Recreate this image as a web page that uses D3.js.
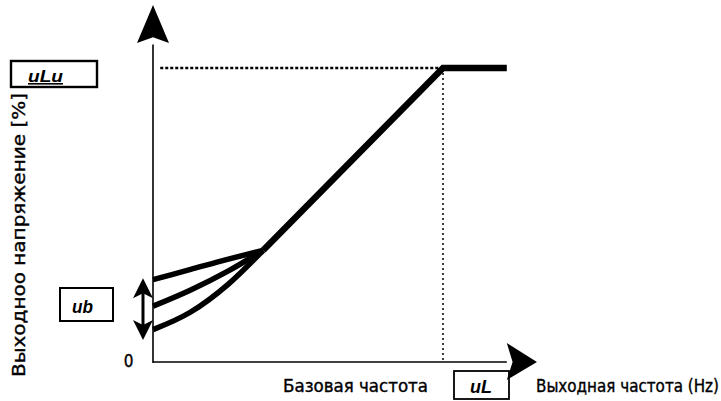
<!DOCTYPE html>
<html><head><meta charset="utf-8">
<script src="https://cdn.jsdelivr.net/npm/d3@7/dist/d3.min.js"></script>
<style>html,body{margin:0;padding:0;background:#fff;}svg{display:block;}</style>
</head><body>
<script>
// ---- data (x: % of base frequency, y: % of output voltage) ----
const mainLine = [[38,38],[100,100],[122,100]];
const boostHigh = [[0,28],[13,31.5],[26,35],[38,38]];
const boostMid  = [[0,19],[13,24.5],[26,31],[38,38]];
const boostLow  = [[0,11],[13,17],[26,26.5],[38,38]];
const xLabels = ["Базовая частота", "Выходная частота (Hz)"];
const yLabel = "Выходноо напряжение [%]";
const boxLabels = ["uLu", "ub", "uL"];
const zeroLabel = "0";

const W = 721, H = 401;
const svg = d3.select("body").append("svg").attr("width", W).attr("height", H);
const x = d3.scaleLinear().domain([0,100]).range([153,443]);
const y = d3.scaleLinear().domain([0,100]).range([362,68]);
const font = "'DejaVu Sans Condensed','Liberation Sans Narrow','Arial Narrow',sans-serif";

// dotted guides
svg.append("line").attr("x1", x(2.5)).attr("x2", x(100)).attr("y1", y(100)).attr("y2", y(100))
  .attr("stroke","#000").attr("stroke-width",2.5).attr("stroke-dasharray","3,2");
svg.append("line").attr("x1", x(100)).attr("x2", x(100)).attr("y1", y(100)).attr("y2", y(0))
  .attr("stroke","#000").attr("stroke-width",1.5).attr("stroke-dasharray","2,3");

// axes
svg.append("line").attr("x1", x(0)).attr("x2", x(0)).attr("y1", y(0)+1).attr("y2", y(108))
  .attr("stroke","#000").attr("stroke-width",1.6);
svg.append("line").attr("x1", x(0)).attr("x2", x(122)).attr("y1", y(0)).attr("y2", y(0))
  .attr("stroke","#000").attr("stroke-width",1.6);
// arrowheads
const yTip = [x(0), y(121.4)];
svg.append("path").attr("d", `M${yTip[0]},${yTip[1]} L${yTip[0]+16},${y(108.5)} L${yTip[0]},${y(110.5)} L${yTip[0]-16},${y(108.5)} Z`)
  .attr("fill","#000");
const xTip = [x(132.4), y(0)];
svg.append("path").attr("d", `M${xTip[0]},${xTip[1]} L${x(122)},${xTip[1]-19} L${x(124)},${xTip[1]} L${x(122)},${xTip[1]+18} Z`)
  .attr("fill","#000");

// curves
const line = d3.line().x(d=>x(d[0])).y(d=>y(d[1]));
const smooth = d3.line().x(d=>x(d[0])).y(d=>y(d[1])).curve(d3.curveMonotoneX);
[boostHigh, boostMid, boostLow].forEach(c=>{
  svg.append("path").attr("d", smooth(c)).attr("fill","none").attr("stroke","#000").attr("stroke-width",5.5);
});
svg.append("path").attr("d", line(mainLine)).attr("fill","none").attr("stroke","#000")
  .attr("stroke-width",6.5).attr("stroke-linejoin","miter");

// double arrow for ub range
const ax = 143, aTop = y(28.5), aBot = y(7.5);
svg.append("line").attr("x1",ax).attr("x2",ax).attr("y1",aTop+10).attr("y2",aBot-10).attr("stroke","#000").attr("stroke-width",3);
svg.append("path").attr("d",`M${ax},${aTop} L${ax+10},${aTop+20} L${ax},${aTop+15} L${ax-10},${aTop+20} Z`).attr("fill","#000");
svg.append("path").attr("d",`M${ax},${aBot} L${ax+10},${aBot-20} L${ax},${aBot-15} L${ax-10},${aBot-20} Z`).attr("fill","#000");

// boxes
function box(x0,y0,w,h,label,tx,ty,tl,fs,under,sw){
  svg.append("rect").attr("x",x0).attr("y",y0).attr("width",w).attr("height",h)
    .attr("fill","none").attr("stroke","#000").attr("stroke-width",sw||1.6);
  svg.append("text").attr("x",tx).attr("y",ty).text(label)
    .attr("font-family","'Liberation Sans',Arial,sans-serif").attr("font-weight","bold").attr("font-style","italic")
    .attr("font-size",fs).attr("textLength",tl).attr("lengthAdjust","spacingAndGlyphs")
    .attr("text-decoration", under?"underline":"none").attr("fill","#000");
}
box(11,61,86,26,boxLabels[0],28,82,35,16,true,2.4);
box(60,288,53,33,boxLabels[1],72,313,21,18,false,2);
box(454,371,55,28,boxLabels[2],470,393,22,18,false,1.8);

// texts
function label(sel){ return sel.attr("font-family",font).attr("fill","#000").attr("stroke","#000").attr("stroke-width",0.35); }
label(svg.append("text").attr("x",128.5).attr("y",367).attr("text-anchor","middle").text(zeroLabel).attr("font-size",17));
label(svg.append("text").attr("x",283).attr("y",392).text(xLabels[0]).attr("font-size",17)
  .attr("textLength",145).attr("lengthAdjust","spacingAndGlyphs"));
label(svg.append("text").attr("x",536).attr("y",392).text(xLabels[1]).attr("font-size",17)
  .attr("textLength",183).attr("lengthAdjust","spacingAndGlyphs"));
label(svg.append("text").attr("transform","translate(25,377) rotate(-90)").text(yLabel).attr("font-size",18)
  .attr("textLength",284).attr("lengthAdjust","spacingAndGlyphs"));
</script>
</body></html>
